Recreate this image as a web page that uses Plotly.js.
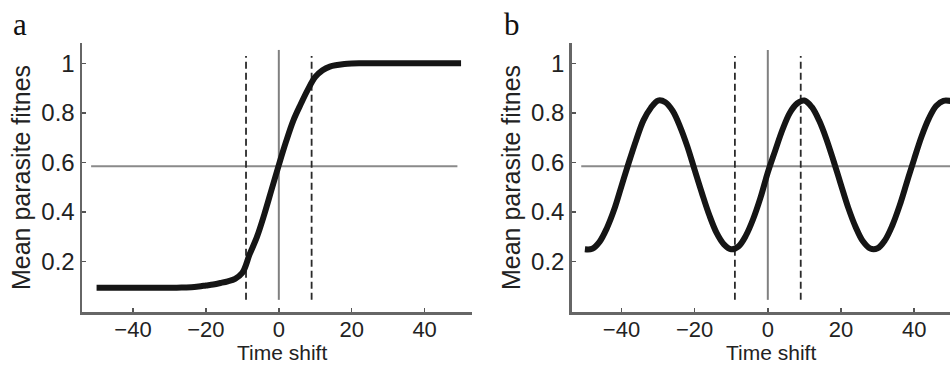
<!DOCTYPE html>
<html>
<head>
<meta charset="utf-8">
<script src="https://cdn.plot.ly/plotly-3.0.1.min.js"></script>
<style>html,body{margin:0;padding:0;background:#fff;}#chart{width:950px;height:366px;}</style>
</head>
<body>
<div id="chart"></div>
<script>
// Panel a: sigmoid-like response
const timeA = [-50,-48,-46,-44,-42,-40,-38,-36,-34,-32,-30,-28,-26,-24,-22,-20,-18,-16,-14,-12,-10,-8,-6,-4,-2,0,2,4,6,8,10,12,14,16,18,20,22,24,26,28,30,32,34,36,38,40,42,44,46,48,50];
const fitnessA = [0.095,0.095,0.095,0.095,0.095,0.095,0.095,0.095,0.095,0.095,0.095,0.095,0.096,0.097,0.1,0.104,0.108,0.114,0.121,0.131,0.155,0.23,0.30,0.39,0.49,0.59,0.685,0.77,0.835,0.895,0.945,0.972,0.987,0.993,0.997,0.999,1.0,1.0,1.0,1.0,1.0,1.0,1.0,1.0,1.0,1.0,1.0,1.0,1.0,1.0,1.0];

// Panel b: oscillating response
const timeB = [-50,-48,-46,-44,-42,-40,-38,-36,-34,-32,-30,-28,-26,-24,-22,-20,-18,-16,-14,-12,-10,-8,-6,-4,-2,0,2,4,6,8,10,12,14,16,18,20,22,24,26,28,30,32,34,36,38,40,42,44,46,48,50];
const fitnessB = [0.25,0.252,0.28,0.335,0.41,0.505,0.60,0.69,0.77,0.82,0.85,0.843,0.808,0.745,0.665,0.57,0.476,0.388,0.316,0.27,0.25,0.262,0.305,0.372,0.458,0.56,0.647,0.732,0.80,0.838,0.85,0.824,0.77,0.695,0.605,0.51,0.417,0.34,0.282,0.253,0.254,0.286,0.345,0.425,0.52,0.614,0.704,0.777,0.828,0.849,0.848];

// Reference lines
const meanLevel = 0.585;
const hlineA = [-51.5, 49];
const hlineB = [-51, 50];
const zeroLineY = [0.046, 1.054];
const dashedX = [-9, 9];
const dashedY = [0.046, 1.03];

const xTicks = [-40,-20,0,20,40];
const yTicks = [0.2,0.4,0.6,0.8,1];
const yTickText = ['0.2','0.4','0.6','0.8','1'];
const panelLabels = ['a','b'];
const xTitle = 'Time shift';
const yTitle = 'Mean parasite fitnes';

const font = 'Liberation Sans, Arial, sans-serif';
const serif = 'Liberation Serif, Times New Roman, serif';

function refTraces(xa, ya, hx) {
  const t = [];
  t.push({x: hx, y: [meanLevel, meanLevel], xaxis: xa, yaxis: ya, mode: 'lines',
          line: {color: '#8a8a8a', width: 2}, hoverinfo: 'skip', showlegend: false});
  t.push({x: [0, 0], y: zeroLineY, xaxis: xa, yaxis: ya, mode: 'lines',
          line: {color: '#808080', width: 2}, hoverinfo: 'skip', showlegend: false});
  dashedX.forEach(function (dx) {
    t.push({x: [dx, dx], y: dashedY, xaxis: xa, yaxis: ya, mode: 'lines',
            line: {color: '#2a2a2a', width: 1.8, dash: '7px,4px'}, hoverinfo: 'skip', showlegend: false});
  });
  return t;
}

const data = [].concat(
  refTraces('x', 'y', hlineA),
  [{x: timeA, y: fitnessA, xaxis: 'x', yaxis: 'y', mode: 'lines',
    line: {color: '#151515', width: 6, shape: 'spline'}, showlegend: false}],
  refTraces('x2', 'y2', hlineB),
  [{x: timeB, y: fitnessB, xaxis: 'x2', yaxis: 'y2', mode: 'lines',
    line: {color: '#151515', width: 6, shape: 'spline'}, showlegend: false}]
);

function xAxis(domain, range, anchor) {
  return {
    domain: domain, range: range, anchor: anchor,
    tickvals: xTicks, ticks: 'inside', ticklen: 4, tickwidth: 1.5, tickcolor: '#555',
    showline: true, linecolor: '#666', linewidth: 2.5, showgrid: false, zeroline: false,
    ticklabelstandoff: -4,
    tickfont: {family: font, size: 22, color: '#222'}
  };
}
function yAxis(anchor) {
  return {
    domain: [0, 1], range: [-0.003, 1.082], anchor: anchor,
    tickvals: yTicks, ticktext: yTickText, ticks: 'inside', ticklen: 4, tickwidth: 1.5, tickcolor: '#555',
    showline: true, linecolor: '#666', linewidth: 2.5, showgrid: false, zeroline: false,
    tickfont: {family: font, size: 24, color: '#222'},
    title: {text: yTitle, font: {family: font, size: 25, color: '#222'}, standoff: 4}
  };
}

const layout = {
  width: 950, height: 366,
  margin: {l: 82, r: 0, t: 43, b: 54},
  paper_bgcolor: '#fff', plot_bgcolor: '#fff',
  xaxis: xAxis([0, 0.4493], [-54, 53], 'y'),
  yaxis: yAxis('x'),
  xaxis2: xAxis([0.5642, 1], [-53.6, 49.8], 'y2'),
  yaxis2: yAxis('x2'),
  annotations: [
    {text: panelLabels[0], xref: 'paper', yref: 'paper', x: -0.082, y: 0.995, xanchor: 'left', yanchor: 'bottom',
     showarrow: false, font: {family: serif, size: 31, color: '#111'}},
    {text: panelLabels[1], xref: 'paper', yref: 'paper', x: 0.4838, y: 0.995, xanchor: 'left', yanchor: 'bottom',
     showarrow: false, font: {family: serif, size: 31, color: '#111'}},
    {text: xTitle, xref: 'x', yref: 'paper', x: 1, y: -0.2007, xanchor: 'center', yanchor: 'bottom',
     showarrow: false, font: {family: font, size: 21, color: '#222'}},
    {text: xTitle, xref: 'x2', yref: 'paper', x: 1, y: -0.2007, xanchor: 'center', yanchor: 'bottom',
     showarrow: false, font: {family: font, size: 21, color: '#222'}}
  ]
};

Plotly.newPlot('chart', data, layout, {displayModeBar: false, staticPlot: true});
</script>
</body>
</html>
